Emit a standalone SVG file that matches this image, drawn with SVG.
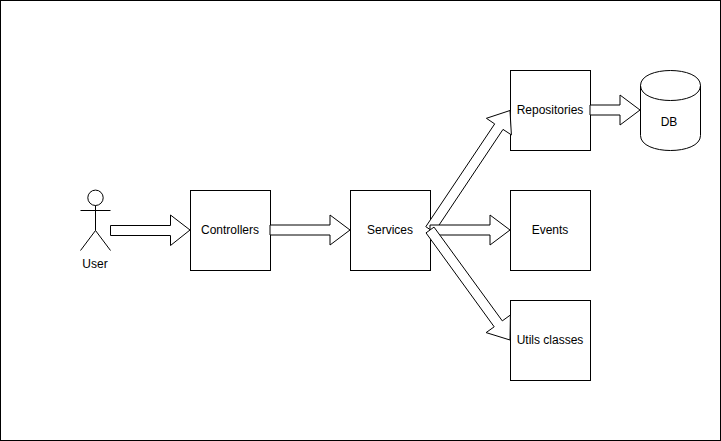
<svg xmlns="http://www.w3.org/2000/svg" width="721" height="441" viewBox="0 0 721 441">
<style>
.s{fill:#fff;stroke:#000;stroke-width:1}
.a{fill:#fff;stroke:#000;stroke-width:1;stroke-linejoin:miter;stroke-miterlimit:10}
.l{fill:none;stroke:#000;stroke-width:1}
text{font-family:"Liberation Sans",Arial,sans-serif;font-size:12px;fill:#000;text-anchor:middle}
</style>
<rect width="721" height="441" fill="#fff"/>
<rect id="frame" x="0.5" y="0.5" width="720" height="440" fill="#fff" stroke="#000"/>
<g id="user">
<circle class="s" cx="95.5" cy="197.8" r="7.7"/>
<path class="l" d="M95.5 205.5V230.5M80.5 210.5H110.5M95.5 230.5L80.5 250.5M95.5 230.5L110.5 250.5"/>
<text x="95" y="268">User</text>
</g>
<g id="controllers"><rect class="s" x="190.5" y="190.5" width="80" height="80"/><text x="230" y="234">Controllers</text></g>
<g id="services"><rect class="s" x="350.5" y="190.5" width="80" height="80"/><text x="390" y="234">Services</text></g>
<g id="repositories"><rect class="s" x="510.5" y="70.5" width="80" height="80"/><text x="550" y="114">Repositories</text></g>
<g id="events"><rect class="s" x="510.5" y="190.5" width="80" height="80"/><text x="550" y="234">Events</text></g>
<g id="utils"><rect class="s" x="510.5" y="300.5" width="80" height="80"/><text x="550" y="344">Utils classes</text></g>
<g id="db">
<path class="s" d="M640.5 85.5C640.5 65.5 700.5 65.5 700.5 85.5V135.5C700.5 155.5 640.5 155.5 640.5 135.5Z"/>
<path class="l" d="M640.5 85.5C640.5 105.5 700.5 105.5 700.5 85.5"/>
<text x="669" y="126">DB</text>
</g>
<g id="connectors">
<path class="a" d="M110.5 225.5H170.5V215L190 230L170.5 245.5V235.5H110.5Z"/>
<path class="a" d="M270 225H330V215L350 230L330 245V235H270Z"/>
<path class="a" d="M590 105H620V95L640 110L620 125V115H590Z"/>
<path class="a" d="M425.8 226.7L494.7 123.9L486.4 118.3L510 110.5L511.4 134.9L503 129.4L434.2 232.3Z"/>
<path class="a" d="M430 225H490V215L510 230L490 245V235H430Z"/>
<path class="a" d="M434 227.1L502.3 320.9L510.4 315L510 340L486.1 332.6L494.2 326.8L426 232.9Z"/>
</g>
</svg>
